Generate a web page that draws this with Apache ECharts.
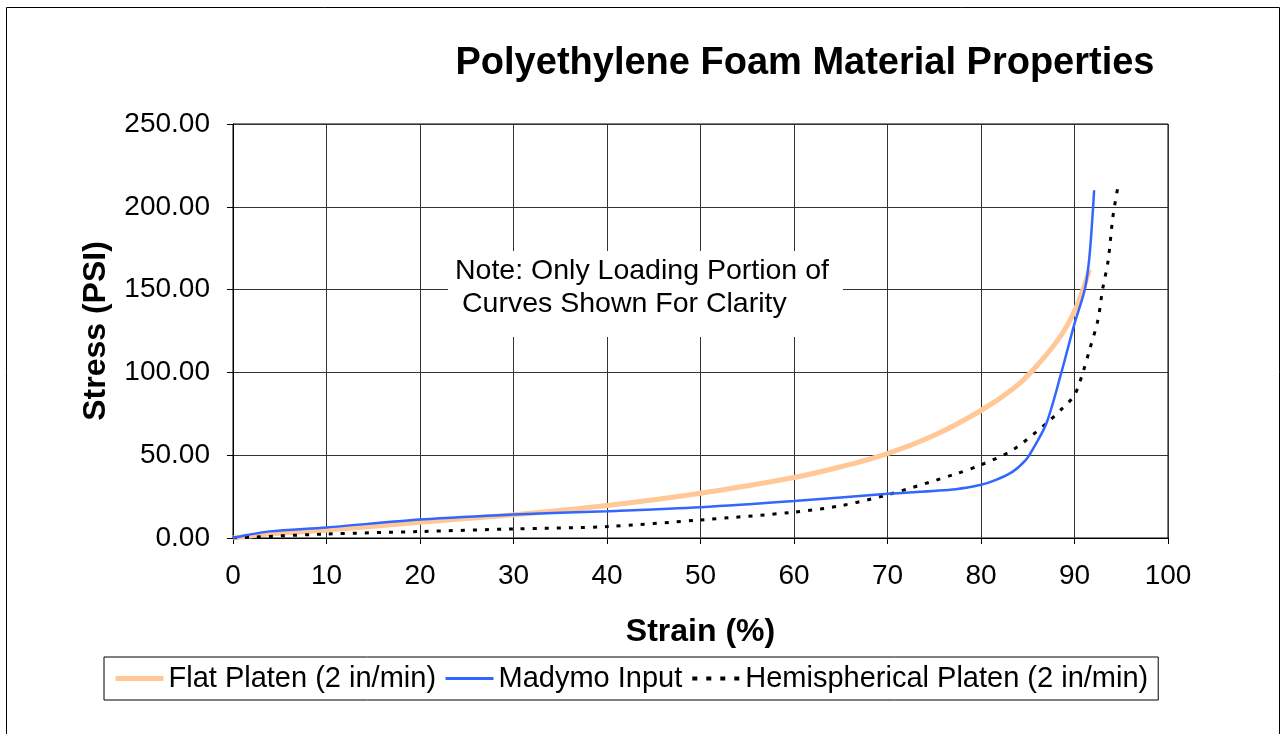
<!DOCTYPE html>
<html><head><meta charset="utf-8">
<script src="https://cdn.jsdelivr.net/npm/echarts@6/dist/echarts.min.js"></script>
<style>html,body{margin:0;padding:0;background:#fff}#c{width:1282px;height:734px}</style>
</head><body><div id="c"></div>
<script>
const titleText = 'Polyethylene Foam Material Properties';
const xName = 'Strain (%)';
const yName = 'Stress (PSI)';
const noteLines = ['Note: Only Loading Portion of', 'Curves Shown For Clarity'];
const seriesNames = ['Flat Platen (2 in/min)', 'Madymo Input', 'Hemispherical Platen (2 in/min)'];

const flatX = [0, 3, 10, 20, 30, 40, 50, 60, 65, 70, 75, 80, 83.4, 85.5, 88.4, 90.2, 91.6];
const flatY = [0, 2, 4.8, 9.5, 14, 19.6, 27, 36.5, 43, 51, 62, 77, 90, 101, 121, 139.5, 162];

const madX = [0, 1.5, 3.9, 10, 20, 30, 40, 50, 60, 70, 77.3, 80, 81.6, 83.4, 84.8, 85.5, 87, 88.6, 90, 91.1, 91.6, 92.1];
const madY = [0, 1.8, 4, 6.4, 11.1, 14.2, 16.2, 18.6, 22.3, 26.7, 29.5, 32.1, 35.1, 40.1, 47.2, 53.2, 69.3, 100, 129.5, 150, 170, 210];

const hemX = [0, 10, 20, 30, 40, 50, 60, 65, 70, 77.3, 80, 83.4, 87, 88.7, 90, 90.9, 91.6, 92.5, 93, 93.6, 94.1, 94.6];
const hemY = [0, 2.4, 3.9, 5.5, 6.9, 10.9, 15.6, 19.5, 26.1, 38.7, 44.2, 53.2, 69.3, 78.3, 86.3, 100, 113.4, 131.5, 150, 167.6, 193.7, 210.8];

const xTicks = [0, 10, 20, 30, 40, 50, 60, 70, 80, 90, 100];
const yTicks = [0, 50, 100, 150, 200, 250];

const zip = (a, b) => a.map((v, i) => [v, b[i]]);
const FONT = 'Liberation Sans, Arial, sans-serif';

const chart = echarts.init(document.getElementById('c'), null, {renderer: 'canvas'});
chart.setOption({
  animation: false,
  backgroundColor: '#fff',
  title: {
    text: titleText, left: 800, top: 40, textAlign: 'center',
    textStyle: {fontFamily: FONT, fontSize: 38, fontWeight: 'bold', color: '#000'}
  },
  grid: {left: 233, top: 124, right: 114, bottom: 196, show: true, borderColor: '#000', borderWidth: 1},
  xAxis: {
    type: 'value', min: xTicks[0], max: xTicks[xTicks.length - 1], interval: 10,
    name: xName, nameLocation: 'middle', nameGap: 78,
    nameTextStyle: {fontFamily: FONT, fontSize: 32, fontWeight: 'bold', color: '#000'},
    axisLine: {lineStyle: {color: '#000', width: 1}},
    axisTick: {show: true, length: 6, lineStyle: {color: '#000'}},
    axisLabel: {fontFamily: FONT, fontSize: 28, color: '#000', margin: 24},
    splitLine: {show: true, lineStyle: {color: '#333', width: 1}}
  },
  yAxis: {
    type: 'value', min: yTicks[0], max: yTicks[yTicks.length - 1], interval: 50,
    name: yName, nameLocation: 'middle', nameGap: 121, nameRotate: 90,
    nameTextStyle: {fontFamily: FONT, fontSize: 32, fontWeight: 'bold', color: '#000'},
    axisLine: {show: true, lineStyle: {color: '#000', width: 1}},
    axisTick: {show: true, length: 6, lineStyle: {color: '#000'}},
    axisLabel: {fontFamily: FONT, fontSize: 28, color: '#000', margin: 23, formatter: v => v.toFixed(2)},
    splitLine: {show: true, lineStyle: {color: '#333', width: 1}}
  },
  legend: {
    left: 104, top: 657,
    padding: [7, 10, 7, 9], itemGap: 8, itemWidth: 48, itemHeight: 10,
    borderColor: '#000', borderWidth: 1, backgroundColor: '#fff',
    itemStyle: {opacity: 0},
    textStyle: {fontFamily: FONT, fontSize: 29, color: '#000'},
    data: [
      {name: seriesNames[0], lineStyle: {width: 5}},
      {name: seriesNames[1], lineStyle: {width: 3}},
      {name: seriesNames[2], lineStyle: {width: 4, type: [5, 9]}}
    ]
  },
  series: [
    {name: seriesNames[0], type: 'line', data: zip(flatX, flatY), symbol: 'none', smooth: 0.3,
     lineStyle: {color: '#FFC896', width: 5}, itemStyle: {color: '#FFC896'}, z: 2},
    {name: seriesNames[1], type: 'line', data: zip(madX, madY), symbol: 'none', smooth: 0.3,
     lineStyle: {color: '#3366FF', width: 2.5}, itemStyle: {color: '#3366FF'}, z: 4},
    {name: seriesNames[2], type: 'line', data: zip(hemX, hemY), symbol: 'none', smooth: 0.3,
     lineStyle: {color: '#000', width: 3, type: [4, 8]}, itemStyle: {color: '#000'}, z: 3}
  ],
  graphic: [
    {type: 'rect', left: 4, top: 5, shape: {x: 0, y: 0, width: 1273, height: 740}, style: {fill: 'none', stroke: '#000', lineWidth: 1}, silent: true},
    {type: 'rect', left: 448, top: 251, z: 10, shape: {x: 0, y: 0, width: 395, height: 86}, style: {fill: '#fff'}, silent: true},
    {type: 'text', left: 455, top: 257, z: 11,
     style: {text: noteLines[0], fontFamily: FONT, fontSize: 28.5, fill: '#000'}},
    {type: 'text', left: 462, top: 290, z: 11,
     style: {text: noteLines[1], fontFamily: FONT, fontSize: 28.5, fill: '#000'}}
  ]
});
</script></body></html>
